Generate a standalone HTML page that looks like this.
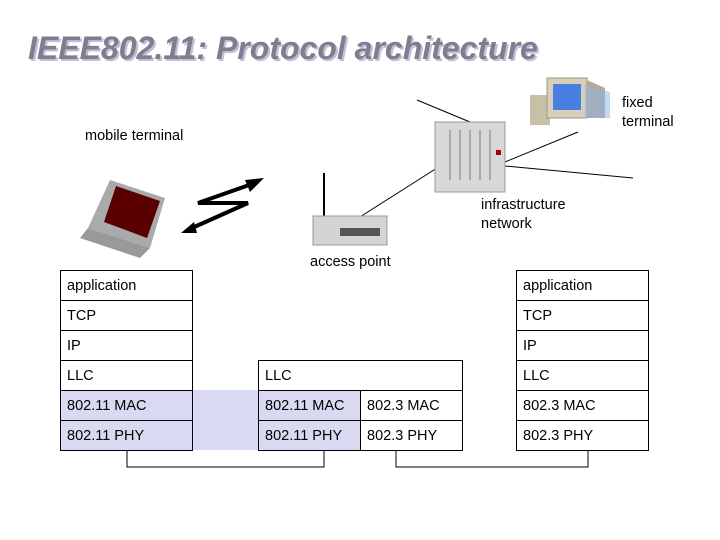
<!DOCTYPE html>
<html><head><style>
body{margin:0;width:720px;height:540px;background:#fff;position:relative;overflow:hidden;font-family:"Liberation Sans",sans-serif}
.t{position:absolute;font-size:14.5px;color:#000;white-space:nowrap}
.c{position:absolute;box-sizing:border-box;border:1px solid #000;font-size:14.5px;padding:7px 0 0 6px;height:31px}
</style></head><body>
<div style="position:absolute;left:28px;top:30px;font-size:32px;font-weight:bold;font-style:italic;color:#7e7e8c;text-shadow:2px 2px 0 #c0c0dc">IEEE802.11: Protocol architecture</div>
<svg width="720" height="540" style="position:absolute;left:0;top:0">
<rect x="192" y="390" width="66" height="60" fill="#d9d9f2"/>
<line x1="417" y1="100" x2="470" y2="122" stroke="#000"/>
<line x1="505" y1="162" x2="578" y2="132" stroke="#000"/>
<line x1="505" y1="166" x2="633" y2="178" stroke="#000"/>
<line x1="352" y1="222" x2="437" y2="168" stroke="#000"/>
<line x1="324" y1="173" x2="324" y2="220" stroke="#000" stroke-width="2"/>
<rect x="435" y="122" width="70" height="70" fill="#d8d8d8" stroke="#999"/>
<g stroke="#777"><line x1="450" y1="130" x2="450" y2="180"/><line x1="460" y1="130" x2="460" y2="180"/><line x1="470" y1="130" x2="470" y2="180"/><line x1="480" y1="130" x2="480" y2="180"/><line x1="490" y1="130" x2="490" y2="180"/></g>
<rect x="496" y="150" width="5" height="5" fill="#a00"/>
<rect x="313" y="216" width="74" height="29" fill="#d4d4d4" stroke="#999"/>
<rect x="340" y="228" width="40" height="8" fill="#555"/>
<rect x="530" y="95" width="20" height="30" fill="#c8bfa8"/>
<rect x="547" y="78" width="40" height="40" fill="#d8cfb8" stroke="#998"/>
<rect x="553" y="84" width="28" height="26" fill="#4a7ee0"/>
<polygon points="587,80 605,88 605,118 587,118" fill="#b8aa90"/>
<polygon points="585,85 610,92 610,118 585,118" fill="#8ab4f0" opacity=".5"/>
<polygon points="110,180 165,198 150,248 88,228" fill="#aaa"/>
<polygon points="116,186 160,201 147,238 104,222" fill="#5a0000"/>
<polygon points="88,228 150,248 140,258 80,238" fill="#999"/>
<polyline points="252,184 198,203 248,203 192,228" fill="none" stroke="#000" stroke-width="4" stroke-linejoin="miter"/>
<polygon points="264,178 250,192 245,180" fill="#000"/>
<polygon points="181,233 194,222 197,233" fill="#000"/>
<polyline points="127,450 127,467 324,467 324,450" fill="none" stroke="#000"/>
<polyline points="396,450 396,467 588,467 588,450" fill="none" stroke="#000"/>
</svg>
<div class="t" style="left:622px;top:94px;line-height:19px">fixed<br>terminal</div>
<div class="t" style="left:85px;top:128px">mobile terminal</div>
<div class="t" style="left:481px;top:196px;line-height:19px">infrastructure<br>network</div>
<div class="t" style="left:310px;top:254px">access point</div>
<div class="c" style="left:60px;top:270px;width:133px">application</div>
<div class="c" style="left:60px;top:300px;width:133px">TCP</div>
<div class="c" style="left:60px;top:330px;width:133px">IP</div>
<div class="c" style="left:60px;top:360px;width:133px">LLC</div>
<div class="c" style="left:60px;top:390px;width:133px;background:#d9d9f2">802.11 MAC</div>
<div class="c" style="left:60px;top:420px;width:133px;background:#d9d9f2">802.11 PHY</div>
<div class="c" style="left:258px;top:360px;width:205px">LLC</div>
<div class="c" style="left:258px;top:390px;width:103px;background:#d9d9f2">802.11 MAC</div>
<div class="c" style="left:258px;top:420px;width:103px;background:#d9d9f2">802.11 PHY</div>
<div class="c" style="left:360px;top:390px;width:103px">802.3 MAC</div>
<div class="c" style="left:360px;top:420px;width:103px">802.3 PHY</div>
<div class="c" style="left:516px;top:270px;width:133px">application</div>
<div class="c" style="left:516px;top:300px;width:133px">TCP</div>
<div class="c" style="left:516px;top:330px;width:133px">IP</div>
<div class="c" style="left:516px;top:360px;width:133px">LLC</div>
<div class="c" style="left:516px;top:390px;width:133px">802.3 MAC</div>
<div class="c" style="left:516px;top:420px;width:133px">802.3 PHY</div>
</body></html>
